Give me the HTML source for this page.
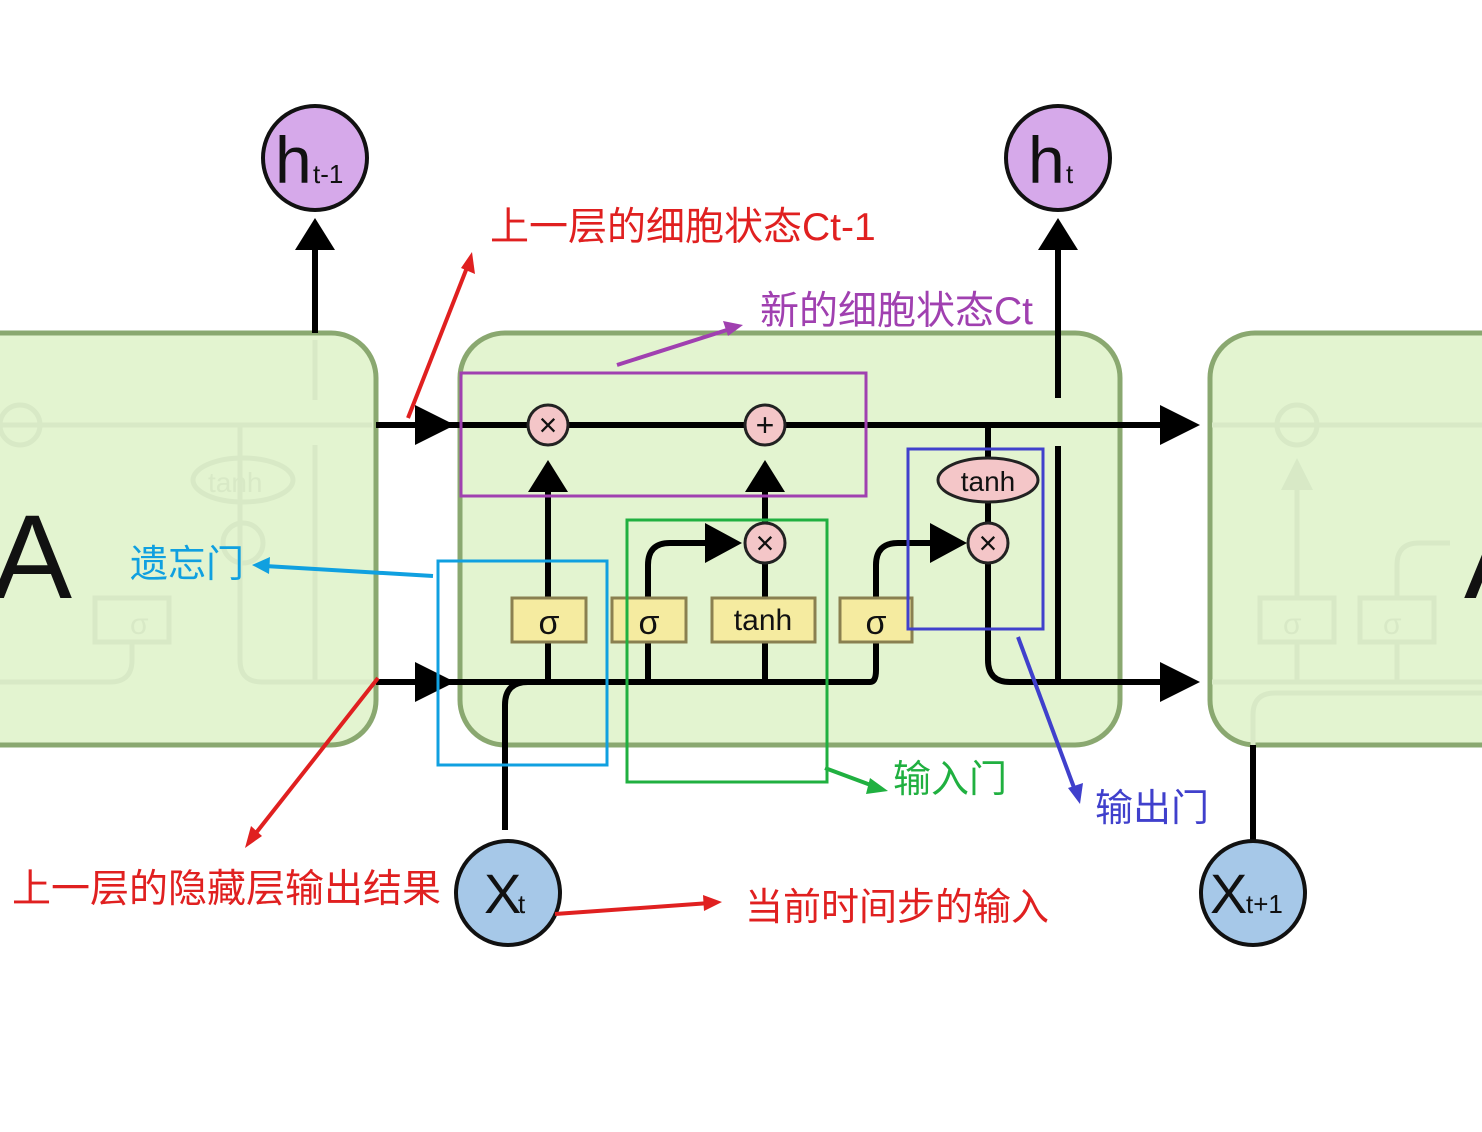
<!DOCTYPE html>
<html><head><meta charset="utf-8"><style>
html,body{margin:0;padding:0;background:#fff;}
svg{display:block;}
text{font-family:"Liberation Sans","Noto Sans CJK SC",sans-serif;}
</style></head><body>
<svg width="1482" height="1132" viewBox="0 0 1482 1132" xmlns="http://www.w3.org/2000/svg">
<!-- cells -->
<rect x="-60" y="333" width="436" height="412" rx="45" fill="#e3f4d0" stroke="#8aa870" stroke-width="5"/>
<rect x="460" y="333" width="660" height="412" rx="45" fill="#e3f4d0" stroke="#8aa870" stroke-width="5"/>
<rect x="1210" y="333" width="400" height="412" rx="45" fill="#e3f4d0" stroke="#8aa870" stroke-width="5"/>
<!-- faded left cell internals -->
<g stroke="#d8e9c6" stroke-width="5" fill="none">
<line x1="0" y1="425" x2="372" y2="425"/>
<line x1="315" y1="340" x2="315" y2="400"/>
<line x1="315" y1="445" x2="315" y2="682"/>
<path d="M240 425 V660 q0 22 22 22 H372"/>
<ellipse cx="243" cy="480" rx="50" ry="22"/>
<circle cx="20" cy="425" r="20"/>
<circle cx="243" cy="543" r="20"/>
<rect x="95" y="598" width="74" height="44"/>
<path d="M0 682 H110 q22 0 22-22 V642"/>
</g>
<text x="130" y="634" font-size="30" fill="#d8e9c6">σ</text>
<text x="208" y="492" font-size="28" fill="#d8e9c6">tanh</text>
<text x="-8" y="598" font-size="120" fill="#111">A</text>
<!-- faded right cell internals -->
<g stroke="#d8e9c6" stroke-width="5" fill="none">
<line x1="1212" y1="425" x2="1482" y2="425"/>
<circle cx="1297" cy="425" r="20"/>
<line x1="1297" y1="475" x2="1297" y2="598"/>
<rect x="1260" y="598" width="74" height="44"/>
<rect x="1360" y="598" width="74" height="44"/>
<line x1="1212" y1="682" x2="1482" y2="682"/>
<path d="M1253 745 V715 q0-22 22-22 H1482"/>
<line x1="1297" y1="642" x2="1297" y2="682"/>
<line x1="1397" y1="642" x2="1397" y2="682"/>
<path d="M1397 598 V565 q0-22 22-22 H1450"/>
</g>
<path d="M1281 490 L1297 458 L1313 490z" fill="#d8e9c6"/>
<text x="1283" y="634" font-size="30" fill="#d8e9c6">σ</text>
<text x="1383" y="634" font-size="30" fill="#d8e9c6">σ</text>
<text x="1464" y="598" font-size="120" fill="#111">A</text>

<!-- main black lines -->
<g stroke="#000" stroke-width="6" fill="none">
<line x1="376" y1="425" x2="1162" y2="425"/>
<line x1="376" y1="682" x2="870" y2="682"/>
<path d="M870 682 q6 0 6-12 V642"/>
<line x1="548" y1="682" x2="548" y2="490"/>
<line x1="765" y1="682" x2="765" y2="563"/>
<line x1="765" y1="523" x2="765" y2="490"/>
<path d="M648 598 V565 q0-22 22-22 H710"/>
<line x1="648" y1="642" x2="648" y2="682"/>
<path d="M876 598 V565 q0-22 22-22 H935"/>
<path d="M505 830 V705 q0-23 23-23"/>
<line x1="988" y1="425" x2="988" y2="460"/>
<line x1="988" y1="502" x2="988" y2="523"/>
<path d="M988 563 V660 q0 22 22 22 H1162"/>
<line x1="1058" y1="446" x2="1058" y2="680"/>
<line x1="1058" y1="398" x2="1058" y2="250"/>
<line x1="315" y1="333" x2="315" y2="250"/>
<line x1="1253" y1="745" x2="1253" y2="840"/>
</g>
<!-- arrowheads -->
<g fill="#000">
<path d="M415 405 L455 425 L415 445z"/>
<path d="M415 662 L455 682 L415 702z"/>
<path d="M1160 405 L1200 425 L1160 445z"/>
<path d="M1160 662 L1200 682 L1160 702z"/>
<path d="M528 492 L548 460 L568 492z"/>
<path d="M745 492 L765 460 L785 492z"/>
<path d="M705 523 L742 543 L705 563z"/>
<path d="M930 523 L967 543 L930 563z"/>
<path d="M295 250 L315 218 L335 250z"/>
<path d="M1038 250 L1058 218 L1078 250z"/>
</g>
<!-- nodes -->
<g stroke="#222" stroke-width="3" fill="#f4c6c8">
<circle cx="548" cy="425" r="20"/>
<circle cx="765" cy="425" r="20"/>
<circle cx="765" cy="543" r="20"/>
<circle cx="988" cy="543" r="20"/>
<ellipse cx="988" cy="480" rx="50" ry="22"/>
</g>
<g font-size="32" fill="#111" text-anchor="middle">
<text x="548" y="436">×</text>
<text x="765" y="436">+</text>
<text x="765" y="554">×</text>
<text x="988" y="554">×</text>
<text x="988" y="491" font-size="28">tanh</text>
</g>
<g stroke="#8a8050" stroke-width="3" fill="#f5eba0">
<rect x="512" y="598" width="74" height="44"/>
<rect x="612" y="598" width="74" height="44"/>
<rect x="712" y="598" width="103" height="44"/>
<rect x="840" y="598" width="72" height="44"/>
</g>
<g font-size="34" fill="#111" text-anchor="middle">
<text x="549" y="634">σ</text>
<text x="649" y="634">σ</text>
<text x="876" y="634">σ</text>
<text x="763" y="630" font-size="30">tanh</text>
</g>
<!-- h and x circles -->
<g stroke="#111" stroke-width="4">
<circle cx="315" cy="158" r="52" fill="#d6a9ea"/>
<circle cx="1058" cy="158" r="52" fill="#d6a9ea"/>
<circle cx="508" cy="893" r="52" fill="#a6c8e8"/>
<circle cx="1253" cy="893" r="52" fill="#a6c8e8"/>
</g>
<g fill="#111">
<text x="275" y="183" font-size="66">h</text><text x="313" y="183" font-size="26">t-1</text>
<text x="1028" y="183" font-size="66">h</text><text x="1066" y="183" font-size="26">t</text>
<text x="484" y="913" font-size="56">X</text><text x="518" y="913" font-size="26">t</text>
<text x="1210" y="913" font-size="56">X</text><text x="1246" y="913" font-size="26">t+1</text>
</g>

<!-- annotation boxes -->
<rect x="461" y="373" width="405" height="123" fill="none" stroke="#a040b0" stroke-width="3"/>
<rect x="438" y="561" width="169" height="204" fill="none" stroke="#10a0e0" stroke-width="3"/>
<rect x="627" y="520" width="200" height="262" fill="none" stroke="#20b040" stroke-width="3"/>
<rect x="908" y="449" width="135" height="180" fill="none" stroke="#4040cc" stroke-width="3"/>

<!-- annotation arrows -->
<g stroke-width="4" fill="none">
<line x1="408" y1="418" x2="468" y2="265" stroke="#e02020"/>
<line x1="378" y1="678" x2="252" y2="838" stroke="#e02020"/>
<line x1="555" y1="914" x2="710" y2="903" stroke="#e02020"/>
<line x1="617" y1="365" x2="730" y2="329" stroke="#a040b0"/>
<line x1="433" y1="576" x2="265" y2="566" stroke="#10a0e0"/>
<path d="M825 768 L876 787" stroke="#20b040"/>
<line x1="1018" y1="637" x2="1076" y2="793" stroke="#4040cc"/>
</g>
<path d="M472 252 L475 274 L461 268z" fill="#e02020"/>
<path d="M245 848 L251 826 L262 836z" fill="#e02020"/>
<path d="M722 902 L703 895 L704 911z" fill="#e02020"/>
<path d="M743 325 L723 321 L728 336z" fill="#a040b0"/>
<path d="M252 565 L270 557 L269 574z" fill="#10a0e0"/>
<path d="M888 791 L870 778 L866 794z" fill="#20b040"/>
<path d="M1080 804 L1068 788 L1083 783z" fill="#4040cc"/>

<!-- labels -->
<g font-size="38">
<text x="490" y="240" fill="#e02020" font-size="39">上一层的细胞状态Ct-1</text>
<text x="760" y="324" fill="#a040b0" font-size="39">新的细胞状态Ct</text>
<text x="130" y="577" fill="#10a0e0">遗忘门</text>
<text x="893" y="792" fill="#20b040">输入门</text>
<text x="1095" y="821" fill="#4040cc">输出门</text>
<text x="12" y="902" fill="#e02020" font-size="39">上一层的隐藏层输出结果</text>
<text x="745" y="920" fill="#e02020">当前时间步的输入</text>
</g>
</svg>
</body></html>
